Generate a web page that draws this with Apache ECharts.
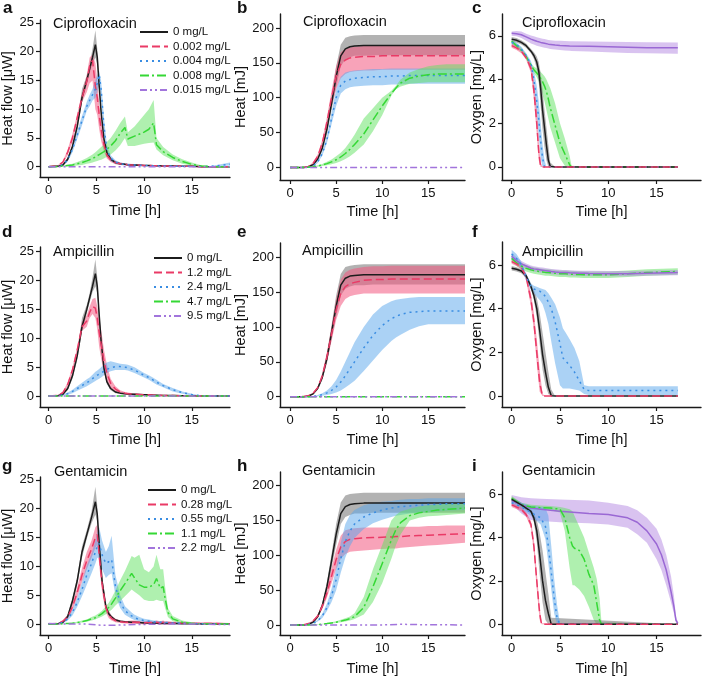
<!DOCTYPE html>
<html><head><meta charset="utf-8">
<script src="https://cdn.jsdelivr.net/npm/echarts@6/dist/echarts.min.js"></script>
<style>html,body{margin:0;padding:0;background:#fff}#c{width:704px;height:681px}</style>
</head><body><div id="c"></div>
<script>
// ================= DATA =================
// ---- shared time grids (h) ----
const tHF = [0, 1, 1.5, 2, 2.5, 3, 3.5, 4, 4.3, 4.6, 4.9, 5.1, 5.3, 5.5, 5.8, 6.1, 6.5, 7, 7.5, 8, 8.3, 9, 10, 10.5, 11, 11.3, 12, 13, 14, 15, 16, 17, 19];
const tG  = [0, 1, 1.5, 2, 2.5, 3, 3.5, 4, 4.5, 4.9, 5.1, 5.3, 5.6, 6, 6.3, 6.6, 7, 7.5, 8, 8.7, 9, 9.5, 10, 10.5, 11, 11.3, 11.7, 12, 12.2, 12.5, 13, 14, 15, 16, 17, 19];
const tH  = [0, 1, 1.5, 2, 2.5, 3, 3.5, 4, 4.5, 5, 5.5, 6, 6.5, 7, 8, 9, 10, 11, 11.5, 12, 13, 14, 15, 16, 17, 19];
const tC  = [0, 0.5, 1, 1.5, 2, 2.3, 2.6, 2.8, 3.0, 3.2, 3.4, 3.6, 3.8, 4.0, 4.5, 5, 5.5, 6, 6.2, 8, 10, 12, 14, 17.2];
const tF  = [0, 0.5, 1, 1.5, 2, 2.3, 2.6, 2.9, 3.2, 3.5, 3.8, 4.1, 4.5, 5, 5.3, 5.6, 6, 6.5, 7, 7.5, 8, 10, 12, 14, 17.2];
const tFlat = [0, 19];
const zero2 = [0, 0];

// ---- tick labels ----
const ticksX = [0, 5, 10, 15];
const ticksHF = [0, 5, 10, 15, 20, 25];
const ticksHeat = [0, 50, 100, 150, 200];
const ticksOx = [0, 2, 4, 6];

// ---- legends ----
const legCipro = ['0 mg/L', '0.002 mg/L', '0.004 mg/L', '0.008 mg/L', '0.015 mg/L'];
const legAmp = ['0 mg/L', '1.2 mg/L', '2.4 mg/L', '4.7 mg/L', '9.5 mg/L'];
const legGent = ['0 mg/L', '0.28 mg/L', '0.55 mg/L', '1.1 mg/L', '2.2 mg/L'];

// ---- (a) Ciprofloxacin heat flow, on tHF ----
const aK   = [0, 0.05, 0.3, 1.3, 3.5, 7, 12, 15, 17, 19, 21.2, 19, 14, 9.5, 4.8, 2.5, 1.3, 0.7, 0.5, 0.4, 0.35, 0.3, 0.2, 0.2, 0.15, 0.15, 0.1, 0.1, 0.05, 0.05, 0, 0, 0];
const aKlo = [0, 0, 0.2, 1.0, 3.0, 6.3, 11.2, 14.3, 16.2, 18.0, 19.0, 17.8, 13.0, 8.7, 4.3, 2.1, 1.0, 0.5, 0.35, 0.3, 0.25, 0.2, 0.12, 0.12, 0.1, 0.1, 0.05, 0.05, 0, 0, 0, 0, 0];
const aKhi = [0.1, 0.15, 0.45, 1.6, 4.0, 7.7, 13.5, 15.8, 17.8, 20.5, 23.7, 20.5, 15.0, 10.3, 5.3, 2.9, 1.6, 0.9, 0.65, 0.5, 0.45, 0.4, 0.3, 0.28, 0.22, 0.2, 0.15, 0.15, 0.1, 0.1, 0.05, 0.05, 0.05];
const aR   = [0, 0.2, 0.8, 2.5, 5, 8.5, 12, 14.8, 17.5, 18.5, 14, 12, 9, 6.5, 3.8, 2.0, 1.2, 0.7, 0.5, 0.4, 0.35, 0.3, 0.2, 0.2, 0.15, 0.15, 0.1, 0.1, 0.05, 0.05, 0, 0, 0];
const aRlo = [0, 0.1, 0.6, 2.0, 4.3, 7.8, 11.2, 13.0, 14.5, 15.0, 10.0, 9.0, 6.5, 4.5, 2.6, 1.4, 0.8, 0.4, 0.3, 0.25, 0.2, 0.15, 0.1, 0.1, 0.05, 0.05, 0, 0, 0, 0, 0, 0, 0];
const aRhi = [0.1, 0.3, 1.0, 3.0, 5.7, 9.2, 12.8, 16.0, 19.0, 19.5, 18.0, 15.0, 11.0, 8.0, 4.8, 2.6, 1.6, 1.0, 0.7, 0.6, 0.5, 0.45, 0.3, 0.3, 0.25, 0.25, 0.15, 0.15, 0.1, 0.1, 0.05, 0.05, 0.05];
const aB   = [0, 0.05, 0.3, 1.2, 3, 5.5, 8, 10.5, 11.5, 12.5, 13.5, 14.5, 16, 13.5, 7, 3, 1.5, 0.8, 0.5, 0.4, 0.35, 0.3, 0.2, 0.2, 0.15, 0.15, 0.1, 0.1, 0.05, 0.05, 0.05, 0.05, 0.4];
const aBlo = [0, 0, 0.2, 0.9, 2.5, 4.8, 7.2, 9.7, 10.5, 11.5, 12.0, 13.0, 14.5, 11.5, 5.5, 2.3, 1.0, 0.5, 0.3, 0.25, 0.2, 0.2, 0.1, 0.1, 0.1, 0.1, 0.05, 0.05, 0, 0, 0, 0, 0.2];
const aBhi = [0.1, 0.15, 0.45, 1.5, 3.5, 6.2, 8.8, 11.3, 12.5, 13.5, 15.0, 16.0, 16.6, 15.0, 8.5, 3.8, 2.0, 1.1, 0.7, 0.55, 0.5, 0.4, 0.3, 0.3, 0.2, 0.2, 0.15, 0.15, 0.1, 0.1, 0.1, 0.1, 0.7];
const aG   = [0, 0.05, 0.1, 0.2, 0.3, 0.5, 0.7, 1.0, 1.2, 1.4, 1.7, 1.9, 2.1, 2.3, 2.6, 3.0, 3.6, 4.5, 5.8, 6.8, 4.8, 5.3, 6.0, 6.5, 7.6, 3.8, 2.6, 1.6, 0.9, 0.4, 0.1, 0, 0];
const aGlo = [0, 0, 0, 0.05, 0.1, 0.2, 0.3, 0.5, 0.6, 0.7, 0.9, 1.0, 1.1, 1.2, 1.4, 1.7, 2.1, 2.8, 3.7, 5.0, 3.6, 3.6, 4.0, 4.1, 4.2, 3.0, 2.0, 1.1, 0.5, 0.15, 0, 0, 0];
const aGhi = [0.1, 0.1, 0.2, 0.35, 0.5, 0.8, 1.1, 1.5, 1.8, 2.1, 2.5, 2.8, 3.1, 3.4, 3.8, 4.3, 5.0, 6.2, 7.6, 8.7, 6.0, 7.0, 9.0, 10.0, 11.6, 5.0, 3.4, 2.1, 1.3, 0.7, 0.25, 0.05, 0.05];

// ---- (d) Ampicillin heat flow, on tHF (control = aK) ----
const dR   = [0, 0.1, 0.6, 2.0, 4.5, 8, 12, 13, 14.5, 15.5, 15.2, 13.5, 11, 9, 6, 4, 2.2, 1.2, 0.7, 0.5, 0.4, 0.3, 0.2, 0.2, 0.15, 0.15, 0.1, 0.1, 0.05, 0.05, 0, 0, 0];
const dRlo = [0, 0, 0.4, 1.6, 4.0, 7.5, 11.3, 12.0, 13.5, 14.2, 13.5, 11.5, 8.5, 6.5, 4.0, 2.5, 1.3, 0.7, 0.4, 0.3, 0.25, 0.2, 0.1, 0.1, 0.1, 0.1, 0.05, 0.05, 0, 0, 0, 0, 0];
const dRhi = [0.1, 0.2, 0.8, 2.4, 5.0, 8.5, 12.8, 14.0, 15.5, 16.8, 17.0, 15.5, 13.0, 11.5, 8.0, 5.5, 3.0, 1.7, 1.0, 0.7, 0.6, 0.45, 0.3, 0.3, 0.2, 0.2, 0.15, 0.15, 0.1, 0.1, 0.05, 0.05, 0.05];
const dB   = [0, 0.05, 0.2, 0.4, 0.8, 1.3, 1.8, 2.3, 2.6, 3.0, 3.4, 3.6, 3.8, 4.0, 4.3, 4.6, 4.9, 5.1, 5.1, 5.0, 4.9, 4.5, 3.6, 3.2, 2.7, 2.4, 1.8, 1.1, 0.6, 0.25, 0.05, 0, 0];
const dBlo = [0, 0, 0.1, 0.2, 0.5, 0.9, 1.3, 1.7, 2.0, 2.3, 2.6, 2.8, 3.0, 3.2, 3.6, 4.0, 4.3, 4.5, 4.5, 4.5, 4.4, 4.0, 3.2, 2.8, 2.3, 2.0, 1.5, 0.8, 0.4, 0.1, 0, 0, 0];
const dBhi = [0.05, 0.1, 0.3, 0.6, 1.1, 1.7, 2.3, 2.9, 3.2, 3.7, 4.2, 4.4, 4.7, 5.0, 5.5, 5.8, 6.0, 5.8, 5.6, 5.5, 5.4, 5.0, 4.0, 3.6, 3.1, 2.8, 2.1, 1.4, 0.8, 0.4, 0.1, 0.05, 0.05];

// ---- (g) Gentamicin heat flow, on tG ----
const gK   = [0, 0.05, 0.3, 1.3, 4, 7.5, 12.5, 15.5, 18.5, 21.2, 19, 14, 7.5, 3, 1.8, 1.2, 0.7, 0.5, 0.4, 0.3, 0.3, 0.25, 0.2, 0.2, 0.15, 0.15, 0.1, 0.1, 0.1, 0.1, 0.1, 0.05, 0.05, 0, 0, 0];
const gKlo = [0, 0, 0.2, 1.0, 3.4, 6.8, 11.5, 14.8, 17.5, 19.0, 17.8, 13.0, 6.8, 2.6, 1.4, 0.9, 0.5, 0.35, 0.3, 0.2, 0.2, 0.15, 0.12, 0.12, 0.1, 0.1, 0.05, 0.05, 0.05, 0.05, 0.05, 0, 0, 0, 0, 0];
const gKhi = [0.1, 0.15, 0.45, 1.6, 4.6, 8.2, 13.5, 16.3, 19.5, 23.8, 20.5, 15.0, 8.3, 3.4, 2.2, 1.5, 0.9, 0.65, 0.5, 0.4, 0.4, 0.35, 0.3, 0.28, 0.22, 0.2, 0.15, 0.15, 0.15, 0.15, 0.15, 0.1, 0.1, 0.05, 0.05, 0.05];
const gR   = [0, 0.1, 0.5, 1.2, 3, 5.5, 8.5, 11, 13, 15, 15.5, 12, 7, 2.8, 1.6, 1.0, 0.6, 0.4, 0.3, 0.3, 0.3, 0.3, 0.2, 0.3, 0.2, 0.3, 0.2, 0.3, 0.2, 0.2, 0.2, 0.2, 0.1, 0.1, 0.1, 0];
const gRlo = [0, 0, 0.3, 0.8, 2.4, 4.6, 7.3, 9.5, 11.5, 13.2, 13.8, 10.2, 5.6, 2.0, 1.0, 0.6, 0.3, 0.2, 0.1, 0, 0, 0, -0.1, 0, -0.1, 0, -0.1, 0, -0.1, -0.1, 0, 0, 0, 0, 0, -0.1];
const gRhi = [0.1, 0.2, 0.7, 1.6, 3.6, 6.4, 9.7, 12.5, 14.5, 16.8, 17.2, 13.8, 8.4, 3.6, 2.2, 1.4, 0.9, 0.6, 0.5, 0.6, 0.6, 0.5, 0.5, 0.6, 0.5, 0.6, 0.5, 0.6, 0.5, 0.5, 0.4, 0.4, 0.3, 0.3, 0.3, 0.2];
const gB   = [0, 0.05, 0.3, 0.9, 2, 3.8, 6, 8.5, 10.5, 12.5, 13.5, 14, 12, 10.5, 10.8, 11.2, 6.5, 3.8, 2.3, 1.4, 1.1, 0.8, 0.6, 0.5, 0.4, 0.35, 0.3, 0.3, 0.25, 0.25, 0.2, 0.15, 0.1, 0.05, 0, 0];
const gBlo = [0, 0, 0.1, 0.6, 1.5, 3.0, 4.8, 6.8, 8.8, 10.5, 11.5, 11.5, 9.5, 8.0, 8.5, 8.8, 5.0, 2.8, 1.6, 0.9, 0.7, 0.5, 0.35, 0.3, 0.2, 0.2, 0.15, 0.15, 0.1, 0.1, 0.05, 0, 0, 0, 0, 0];
const gBhi = [0.1, 0.15, 0.5, 1.2, 2.5, 4.6, 7.2, 10.2, 12.2, 14.5, 15.8, 16.8, 14.5, 12.5, 13.5, 15.3, 8.5, 5.0, 3.1, 2.0, 1.6, 1.2, 0.9, 0.8, 0.6, 0.55, 0.5, 0.45, 0.4, 0.4, 0.35, 0.3, 0.2, 0.1, 0.05, 0.05];
const gG   = [0, 0, 0.05, 0.1, 0.15, 0.25, 0.4, 0.6, 0.9, 1.1, 1.3, 1.5, 1.8, 2.4, 2.9, 3.5, 4.5, 5.8, 7.0, 8.8, 8.0, 6.8, 6.4, 6.4, 6.8, 7.9, 6.2, 6.5, 4.5, 2.0, 0.9, 0.3, 0.1, 0.05, 0, 0];
const gGlo = [0, 0, 0, 0.05, 0.1, 0.15, 0.25, 0.4, 0.6, 0.8, 0.95, 1.1, 1.3, 1.7, 2.1, 2.5, 3.2, 4.0, 4.8, 6.0, 5.6, 5.0, 4.2, 4.0, 4.0, 4.2, 4.0, 4.0, 2.8, 1.2, 0.5, 0.1, 0, 0, 0, 0];
const gGhi = [0.05, 0.05, 0.1, 0.2, 0.25, 0.4, 0.6, 0.8, 1.2, 1.5, 1.7, 1.9, 2.3, 3.1, 3.7, 4.5, 5.8, 7.6, 9.2, 11.8, 11.5, 12.0, 9.5, 9.0, 10.0, 12.0, 9.5, 9.5, 6.5, 2.8, 1.4, 0.6, 0.3, 0.1, 0.05, 0.05];
const tGP = [0, 2, 4, 5.5, 7, 9, 12, 15, 19];
const gP  = [0.1, 0, 0, -0.2, -0.2, -0.1, 0, 0, -0.1];

// ---- heat (b, e, h), on tH ----
const hK   = [0, 0, 0, 1, 4, 12, 28, 55, 92, 130, 160, 170, 173, 174, 175, 175, 175, 175, 175, 175, 175, 175, 175, 175, 175, 175];
const hKlo = [0, 0, 0, 0.5, 3, 10, 24, 48, 82, 115, 145, 155, 158, 160, 160, 161, 161, 161, 161, 161, 161, 161, 161, 161, 161, 161];
const hKhi = [0, 0, 0.2, 1.5, 5, 14, 32, 62, 102, 145, 176, 186, 188, 189, 190, 190, 190, 190, 190, 190, 190, 190, 190, 190, 190, 190];
const bR   = [0, 0, 0.1, 1.5, 6, 16, 35, 65, 100, 130, 148, 154, 157, 158, 159, 159, 160, 160, 160, 160, 160, 160, 160, 160, 160, 160];
const bRlo = [0, 0, 0, 1, 4.5, 13, 30, 57, 88, 112, 128, 134, 137, 138, 139, 139, 140, 140, 140, 140, 140, 140, 140, 140, 140, 140];
const bRhi = [0, 0, 0.2, 2, 7.5, 19, 40, 72, 110, 145, 165, 170, 172, 173, 174, 174, 175, 175, 175, 175, 175, 175, 175, 175, 175, 175];
const bB   = [0, 0, 0, 0.3, 2, 8, 20, 40, 70, 100, 118, 124, 126, 128, 129, 130, 130, 131, 131, 131, 132, 132, 132, 132, 132, 132];
const bBlo = [0, 0, 0, 0.2, 1.5, 6.5, 17, 35, 62, 88, 106, 112, 115, 116, 117, 118, 118, 119, 119, 119, 120, 120, 120, 120, 120, 120];
const bBhi = [0, 0, 0, 0.5, 2.5, 9.5, 23, 45, 78, 112, 130, 136, 138, 139, 140, 141, 141, 142, 142, 142, 142, 142, 142, 142, 142, 142];
const bG   = [0, 0, 0.2, 0.5, 1, 2, 3.5, 5.5, 8, 11, 15, 20, 26, 33, 48, 68, 88, 106, 114, 121, 128, 131, 133, 134, 134, 134];
const bGlo = [0, 0, 0, 0.2, 0.5, 1, 2, 3, 4.5, 6.5, 9, 12, 16, 21, 33, 52, 75, 103, 112, 116, 120, 121, 122, 122, 122, 122];
const bGhi = [0, 0, 0.4, 0.8, 1.5, 3, 5, 8, 11.5, 16, 21, 28, 37, 47, 70, 85, 100, 110, 117, 126, 136, 141, 145, 147, 148, 148];
const eR   = [0, 0, 0.2, 1.5, 5, 13, 30, 57, 90, 125, 148, 158, 162, 164, 167, 168, 168, 169, 169, 169, 169, 169, 169, 169, 169, 169];
const eRlo = [0, 0, 0.1, 1, 4, 11, 26, 50, 80, 110, 130, 140, 144, 146, 148, 148, 148, 148, 148, 148, 148, 148, 148, 148, 148, 148];
const eRhi = [0, 0, 0.3, 2, 6, 15, 34, 64, 100, 140, 168, 178, 182, 184, 186, 187, 187, 188, 188, 188, 188, 188, 188, 188, 188, 188];
const eB   = [0, 0, 0, 0, 0.5, 1.5, 3, 5.5, 9, 14, 21, 30, 40, 50, 70, 88, 102, 112, 115, 118, 121, 122, 123, 123, 123, 123];
const eBlo = [0, 0, 0, 0, 0.2, 0.8, 1.5, 2.5, 4, 6, 9, 13, 18, 23, 37, 52, 67, 80, 85, 89, 96, 101, 104, 104, 104, 104];
const eBhi = [0, 0, 0, 0.1, 1, 2.5, 5, 9, 15, 24, 36, 50, 64, 78, 100, 118, 130, 137, 139, 140, 142, 143, 143, 143, 143, 143];
const hR   = [0, 0, 0.3, 2, 6, 13, 27, 46, 70, 94, 112, 120, 123, 124, 125, 125.5, 126, 126.5, 127, 127, 128, 128.5, 129, 129.5, 130, 131];
const hRlo = [0, 0, 0.2, 1.5, 5, 11, 23, 39, 60, 80, 95, 102, 105, 106, 107, 108, 109, 110, 110, 111, 112, 113, 114, 115, 116, 118];
const hRhi = [0, 0, 0.4, 2.5, 7, 15, 31, 54, 82, 108, 128, 136, 138, 139, 140, 140, 140, 140, 140, 141, 141, 141, 142, 142, 143, 143];
const hB   = [0, 0, 0.1, 0.8, 2.5, 6, 13, 25, 42, 65, 95, 120, 135, 145, 155, 161, 165, 168, 169, 170, 171, 172, 173, 173, 174, 174];
const hBlo = [0, 0, 0, 0.5, 2, 5, 10, 20, 33, 50, 75, 97, 113, 125, 138, 146, 151, 155, 157, 158, 160, 161, 162, 163, 164, 165];
const hBhi = [0, 0, 0.2, 1.1, 3, 7.5, 16, 31, 52, 82, 118, 145, 158, 165, 172, 175, 177, 178, 179, 180, 181, 181, 182, 182, 182, 182];
const hG   = [0, 0, 0, 0.1, 0.3, 0.7, 1.2, 2, 3, 4, 5.5, 7, 9, 12, 25, 55, 88, 122, 137, 147, 157, 161, 163, 165, 166, 168];
const hGlo = [0, 0, 0, 0, 0.2, 0.5, 0.9, 1.5, 2.2, 3, 4, 5, 6.5, 8.5, 15, 33, 60, 95, 115, 130, 150, 154, 156, 157, 158, 160];
const hGhi = [0, 0, 0.1, 0.2, 0.5, 1, 1.6, 2.6, 4, 5.5, 7.5, 9.5, 12, 17, 40, 80, 115, 150, 158, 163, 167, 170, 172, 173, 174, 175];
const tHP = [0, 10, 12, 14, 19];
const hP  = [0, 0, 1, 0.5, 0];

// ---- (c) Ciprofloxacin oxygen, on tC ----
const cK   = [5.85, 5.8, 5.7, 5.55, 5.3, 5.1, 4.8, 4.4, 3.6, 2.6, 1.8, 1.0, 0.3, 0.02, 0, 0, 0, 0, 0, 0, 0, 0, 0, 0];
const cKlo = [5.75, 5.7, 5.6, 5.45, 5.2, 4.95, 4.5, 3.9, 2.8, 1.7, 0.9, 0.3, 0, 0, 0, 0, 0, 0, 0, 0, 0, 0, 0, 0];
const cKhi = [5.95, 5.9, 5.8, 5.65, 5.4, 5.25, 5.05, 4.8, 4.3, 3.5, 2.6, 1.8, 1.0, 0.2, 0, 0, 0, 0, 0, 0, 0, 0, 0, 0];
const cR   = [5.55, 5.45, 5.3, 5.0, 4.5, 3.5, 2.0, 0.7, 0, 0, 0, 0, 0, 0, 0, 0, 0, 0, 0, 0, 0, 0, 0, 0];
const cRlo = [5.45, 5.35, 5.2, 4.9, 4.3, 3.1, 1.5, 0.3, 0, 0, 0, 0, 0, 0, 0, 0, 0, 0, 0, 0, 0, 0, 0, 0];
const cRhi = [5.65, 5.55, 5.4, 5.1, 4.7, 3.9, 2.6, 1.2, 0.2, 0, 0, 0, 0, 0, 0, 0, 0, 0, 0, 0, 0, 0, 0, 0];
const cB   = [5.7, 5.6, 5.4, 5.1, 4.7, 4.0, 3.0, 2.2, 1.2, 0.4, 0, 0, 0, 0, 0, 0, 0, 0, 0, 0, 0, 0, 0, 0];
const cBlo = [5.6, 5.5, 5.3, 5.0, 4.5, 3.6, 2.3, 1.4, 0.4, 0, 0, 0, 0, 0, 0, 0, 0, 0, 0, 0, 0, 0, 0, 0];
const cBhi = [5.8, 5.7, 5.5, 5.2, 4.85, 4.4, 3.7, 3.0, 2.0, 1.0, 0.3, 0, 0, 0, 0, 0, 0, 0, 0, 0, 0, 0, 0, 0];
const cG   = [5.75, 5.55, 5.35, 5.05, 4.65, 4.45, 4.3, 4.2, 4.05, 3.9, 3.7, 3.45, 3.1, 2.7, 1.9, 1.1, 0.6, 0.1, 0, 0, 0, 0, 0, 0];
const cGlo = [5.65, 5.45, 5.25, 4.95, 4.55, 4.3, 4.1, 3.9, 3.6, 3.3, 3.0, 2.6, 2.2, 1.8, 1.1, 0.4, 0.05, 0, 0, 0, 0, 0, 0, 0];
const cGhi = [5.85, 5.65, 5.45, 5.15, 4.75, 4.6, 4.5, 4.45, 4.35, 4.25, 4.15, 4.0, 3.8, 3.6, 2.9, 2.0, 1.3, 0.5, 0.05, 0, 0, 0, 0, 0];
const cP   = [6.12, 6.1, 6.05, 5.95, 5.85, 5.8, 5.75, 5.72, 5.7, 5.68, 5.66, 5.64, 5.62, 5.6, 5.58, 5.56, 5.55, 5.54, 5.54, 5.52, 5.5, 5.48, 5.46, 5.45];
const cPlo = [6.0, 5.98, 5.9, 5.78, 5.65, 5.6, 5.55, 5.52, 5.5, 5.48, 5.46, 5.44, 5.42, 5.4, 5.37, 5.35, 5.33, 5.32, 5.31, 5.28, 5.25, 5.22, 5.2, 5.18];
const cPhi = [6.2, 6.22, 6.2, 6.1, 6.02, 5.98, 5.94, 5.91, 5.89, 5.87, 5.85, 5.83, 5.81, 5.8, 5.78, 5.77, 5.76, 5.75, 5.75, 5.74, 5.73, 5.72, 5.71, 5.7];

// ---- (f) Ampicillin oxygen, on tF ----
const fK   = [5.85, 5.8, 5.72, 5.5, 5.0, 4.6, 4.0, 3.0, 1.9, 1.1, 0.4, 0.02, 0, 0, 0, 0, 0, 0, 0, 0, 0, 0, 0, 0, 0];
const fKlo = [5.75, 5.7, 5.62, 5.4, 4.9, 4.4, 3.6, 2.4, 1.2, 0.5, 0.1, 0, 0, 0, 0, 0, 0, 0, 0, 0, 0, 0, 0, 0, 0];
const fKhi = [5.95, 5.9, 5.82, 5.6, 5.15, 4.85, 4.5, 3.8, 2.9, 2.0, 1.1, 0.3, 0, 0, 0, 0, 0, 0, 0, 0, 0, 0, 0, 0, 0];
const fR   = [6.15, 6.05, 5.9, 5.45, 4.4, 3.4, 2.0, 0.6, 0, 0, 0, 0, 0, 0, 0, 0, 0, 0, 0, 0, 0, 0, 0, 0, 0];
const fRlo = [6.05, 5.95, 5.8, 5.3, 4.1, 3.0, 1.5, 0.2, 0, 0, 0, 0, 0, 0, 0, 0, 0, 0, 0, 0, 0, 0, 0, 0, 0];
const fRhi = [6.25, 6.15, 6.0, 5.6, 4.7, 3.8, 2.6, 1.2, 0.1, 0, 0, 0, 0, 0, 0, 0, 0, 0, 0, 0, 0, 0, 0, 0, 0];
const fB   = [6.5, 6.3, 6.0, 5.45, 5.0, 4.9, 4.85, 4.8, 4.7, 4.55, 4.3, 4.0, 3.4, 2.4, 1.75, 1.6, 1.4, 1.1, 0.7, 0.3, 0.25, 0.25, 0.25, 0.25, 0.25];
const fBlo = [6.3, 6.1, 5.85, 5.3, 4.85, 4.7, 4.55, 4.4, 4.2, 3.8, 3.3, 2.5, 1.5, 0.5, 0.35, 0.35, 0.35, 0.3, 0.25, 0.1, 0.05, 0.05, 0.05, 0.05, 0.05];
const fBhi = [6.7, 6.5, 6.15, 5.6, 5.15, 5.05, 5.0, 4.95, 4.9, 4.85, 4.7, 4.5, 4.2, 3.6, 3.1, 2.9, 2.6, 2.2, 1.6, 0.5, 0.45, 0.45, 0.45, 0.45, 0.45];
const fG   = [6.3, 6.1, 5.95, 5.85, 5.78, 5.75, 5.72, 5.7, 5.68, 5.66, 5.65, 5.64, 5.62, 5.6, 5.6, 5.6, 5.58, 5.57, 5.56, 5.55, 5.55, 5.55, 5.6, 5.65, 5.7];
const fGlo = [6.15, 5.95, 5.8, 5.7, 5.63, 5.6, 5.57, 5.55, 5.53, 5.51, 5.5, 5.49, 5.47, 5.45, 5.45, 5.45, 5.43, 5.42, 5.41, 5.4, 5.4, 5.4, 5.45, 5.5, 5.55];
const fGhi = [6.45, 6.25, 6.1, 6.0, 5.93, 5.9, 5.87, 5.85, 5.83, 5.81, 5.8, 5.79, 5.77, 5.75, 5.75, 5.75, 5.73, 5.72, 5.71, 5.7, 5.7, 5.7, 5.75, 5.8, 5.85];
const fP   = [6.4, 6.2, 6.05, 5.95, 5.85, 5.82, 5.8, 5.78, 5.76, 5.74, 5.72, 5.7, 5.68, 5.66, 5.65, 5.65, 5.64, 5.63, 5.62, 5.62, 5.61, 5.6, 5.6, 5.62, 5.65];
const fPlo = [6.25, 6.05, 5.92, 5.83, 5.73, 5.7, 5.68, 5.66, 5.64, 5.62, 5.6, 5.58, 5.56, 5.54, 5.53, 5.53, 5.52, 5.51, 5.5, 5.5, 5.49, 5.48, 5.48, 5.5, 5.53];
const fPhi = [6.55, 6.35, 6.18, 6.07, 5.97, 5.94, 5.92, 5.9, 5.88, 5.86, 5.84, 5.82, 5.8, 5.78, 5.77, 5.77, 5.76, 5.75, 5.74, 5.74, 5.73, 5.72, 5.72, 5.74, 5.77];

// ---- (i) Gentamicin oxygen, own time grids ----
const iTK = [0, 1, 2, 2.3, 2.6, 2.9, 3.2, 3.5, 3.8, 4.1, 17.2];
const iK   = [5.75, 5.5, 5.2, 4.9, 4.3, 3.2, 2.0, 1.1, 0.5, 0, 0];
const iKlo = [5.65, 5.4, 5.1, 4.7, 3.8, 2.3, 1.0, 0.2, 0, 0, 0];
const iKhi = [5.85, 5.6, 5.3, 5.1, 4.8, 4.2, 3.4, 2.4, 1.4, 0.3, 0];
const iTR = [0, 1, 1.5, 2, 2.3, 2.6, 2.9, 3.1, 17.2];
const iR   = [5.5, 5.3, 5.05, 4.6, 3.6, 2.0, 0.5, 0, 0];
const iRlo = [5.4, 5.2, 4.95, 4.45, 3.3, 1.6, 0.2, 0, 0];
const iRhi = [5.6, 5.4, 5.15, 4.75, 3.9, 2.4, 0.8, 0.05, 0];
const iTB = [0, 1, 2, 3, 3.5, 3.8, 4.1, 4.4, 4.7, 5.0, 17.2];
const iB   = [5.6, 5.4, 5.15, 4.9, 4.5, 3.6, 2.4, 1.2, 0.3, 0, 0];
const iBlo = [5.5, 5.3, 5.0, 4.6, 3.9, 2.8, 1.6, 0.5, 0, 0, 0];
const iBhi = [5.8, 5.6, 5.45, 5.4, 5.35, 5.0, 3.6, 2.1, 0.9, 0.05, 0];
const iTG = [0, 1, 2, 3, 4, 5, 5.5, 6, 6.3, 6.5, 7, 7.5, 8, 8.5, 8.8, 9.1, 9.3, 17.2];
const iG   = [5.8, 5.5, 5.4, 5.37, 5.35, 5.3, 4.9, 4.0, 3.6, 3.5, 3.4, 3.0, 2.3, 1.8, 1.0, 0.2, 0, 0];
const iGlo = [5.7, 5.4, 5.3, 5.27, 5.25, 5.15, 4.3, 2.6, 1.8, 1.8, 1.6, 1.3, 0.8, 0.2, 0, 0, 0, 0];
const iGhi = [5.9, 5.6, 5.5, 5.47, 5.45, 5.4, 5.35, 5.3, 5.2, 5.0, 4.5, 4.0, 3.3, 2.6, 2.1, 1.2, 0.1, 0];
const iTP = [0, 1, 2, 3, 5, 8, 10, 12, 13, 14, 15, 15.5, 16, 16.5, 16.8, 17.0, 17.2];
const iP   = [5.7, 5.5, 5.35, 5.3, 5.2, 5.1, 5.05, 4.9, 4.7, 4.3, 3.7, 3.2, 2.5, 1.5, 0.8, 0.2, 0.05];
const iPlo = [5.55, 5.1, 4.8, 4.75, 4.7, 4.65, 4.6, 4.45, 4.15, 3.75, 3.0, 2.5, 1.8, 1.0, 0.5, 0.1, 0];
const iPhi = [5.95, 5.85, 5.8, 5.78, 5.75, 5.7, 5.6, 5.45, 5.25, 4.9, 4.4, 3.9, 3.2, 2.2, 1.3, 0.4, 0.1];

// ================= STYLE / LAYOUT =================
const FONT = '"Liberation Sans", Arial, Helvetica, sans-serif';
const STY = {
  k: { c: '#1c1c1c', band: 'rgba(115,115,115,0.55)', dash: 'solid' },
  r: { c: '#ea3a66', band: 'rgba(243,88,128,0.55)', dash: [8, 4] },
  b: { c: '#3a8de2', band: 'rgba(88,165,235,0.5)', dash: [2, 4] },
  g: { c: '#35d835', band: 'rgba(95,225,95,0.5)', dash: [9, 3, 2, 3] },
  p: { c: '#a275dc', band: 'rgba(180,135,225,0.5)', dash: [7, 3, 2, 3, 2, 3] },
  po: { c: '#9a68d4', band: 'rgba(180,135,225,0.5)', dash: 'solid' }
};
const GEO = {
  a: { left: 40, top: 20, width: 190, height: 157, x: [-0.9, 19], y: [-1.8, 25.5] },
  b: { left: 280, top: 14, width: 185, height: 166, x: [-1.1, 19], y: [-18, 220] },
  c: { left: 502, top: 14, width: 199, height: 166, x: [-1, 19.6], y: [-0.6, 7] },
  d: { left: 40, top: 247, width: 190, height: 160, x: [-0.9, 19], y: [-1.9, 25.8] },
  e: { left: 280, top: 243, width: 185, height: 164, x: [-1.1, 19], y: [-14.8, 220.5] },
  f: { left: 502, top: 242, width: 199, height: 165, x: [-1, 19.6], y: [-0.5, 7.05] },
  g: { left: 40, top: 477, width: 190, height: 158, x: [-0.9, 19], y: [-1.9, 25.5] },
  h: { left: 280, top: 472, width: 185, height: 163, x: [-1.1, 19], y: [-14.4, 219.7] },
  i: { left: 502, top: 472, width: 199, height: 163, x: [-1, 19.6], y: [-0.49, 7.01] }
};
const KIND = {
  hf: { name: 'Heat flow [\u03bcW]', ticks: ticksHF, gap: 19 },
  heat: { name: 'Heat [mJ]', ticks: ticksHeat, gap: 22 },
  ox: { name: 'Oxygen [mg/L]', ticks: ticksOx, gap: 9 }
};

// panel definitions: [name, style, t, mean, lo, hi]
const panels = [
  { id: 'a', kind: 'hf', title: 'Ciprofloxacin', legend: legCipro, leg: [139, 26], s: [
    ['0 mg/L', 'k', tHF, aK, aKlo, aKhi], ['0.002 mg/L', 'r', tHF, aR, aRlo, aRhi],
    ['0.004 mg/L', 'b', tHF, aB, aBlo, aBhi], ['0.008 mg/L', 'g', tHF, aG, aGlo, aGhi],
    ['0.015 mg/L', 'p', tFlat, zero2, null, null]] },
  { id: 'b', kind: 'heat', title: 'Ciprofloxacin', s: [
    ['b0', 'k', tH, hK, hKlo, hKhi], ['b1', 'r', tH, bR, bRlo, bRhi], ['b2', 'b', tH, bB, bBlo, bBhi],
    ['b3', 'g', tH, bG, bGlo, bGhi], ['b4', 'p', tFlat, zero2, null, null]] },
  { id: 'c', kind: 'ox', title: 'Ciprofloxacin', s: [
    ['c4', 'po', tC, cP, cPlo, cPhi], ['c3', 'g', tC, cG, cGlo, cGhi], ['c0', 'k', tC, cK, cKlo, cKhi],
    ['c2', 'b', tC, cB, cBlo, cBhi], ['c1', 'r', tC, cR, cRlo, cRhi]] },
  { id: 'd', kind: 'hf', title: 'Ampicillin', legend: legAmp, leg: [153, 252], s: [
    ['0 mg/L', 'k', tHF, aK, aKlo, aKhi], ['1.2 mg/L', 'r', tHF, dR, dRlo, dRhi],
    ['2.4 mg/L', 'b', tHF, dB, dBlo, dBhi], ['4.7 mg/L', 'g', tFlat, zero2, null, null],
    ['9.5 mg/L', 'p', tFlat, zero2, null, null]] },
  { id: 'e', kind: 'heat', title: 'Ampicillin', s: [
    ['e0', 'k', tH, hK, hKlo, hKhi], ['e1', 'r', tH, eR, eRlo, eRhi], ['e2', 'b', tH, eB, eBlo, eBhi],
    ['e3', 'g', tFlat, zero2, null, null], ['e4', 'p', tFlat, zero2, null, null]] },
  { id: 'f', kind: 'ox', title: 'Ampicillin', s: [
    ['f3', 'g', tF, fG, fGlo, fGhi], ['f4', 'po', tF, fP, fPlo, fPhi], ['f0', 'k', tF, fK, fKlo, fKhi],
    ['f1', 'r', tF, fR, fRlo, fRhi], ['f2', 'b', tF, fB, fBlo, fBhi]] },
  { id: 'g', kind: 'hf', title: 'Gentamicin', legend: legGent, leg: [147, 484], s: [
    ['0 mg/L', 'k', tG, gK, gKlo, gKhi], ['0.28 mg/L', 'r', tG, gR, gRlo, gRhi],
    ['0.55 mg/L', 'b', tG, gB, gBlo, gBhi], ['1.1 mg/L', 'g', tG, gG, gGlo, gGhi],
    ['2.2 mg/L', 'p', tGP, gP, null, null]] },
  { id: 'h', kind: 'heat', title: 'Gentamicin', s: [
    ['h0', 'k', tH, hK, hKlo, hKhi], ['h1', 'r', tH, hR, hRlo, hRhi], ['h2', 'b', tH, hB, hBlo, hBhi],
    ['h3', 'g', tH, hG, hGlo, hGhi], ['h4', 'p', tHP, hP, null, null]] },
  { id: 'i', kind: 'ox', title: 'Gentamicin', s: [
    ['i4', 'po', iTP, iP, iPlo, iPhi], ['i3', 'g', iTG, iG, iGlo, iGhi], ['i0', 'k', iTK, iK, iKlo, iKhi],
    ['i2', 'b', iTB, iB, iBlo, iBhi], ['i1', 'r', iTR, iR, iRlo, iRhi]] }
];
const TITLE_POS = { a: [53, 16], b: [303, 14], c: [522, 15], d: [53, 244], e: [302, 243], f: [522, 244], g: [54, 464], h: [302, 463], i: [522, 463] };
const LETTER_POS = { a: [3, 0], b: [237, 0], c: [472, 0], d: [2, 224], e: [237, 224], f: [472, 224], g: [2, 458], h: [237, 458], i: [472, 458] };
const XNAME_GAP = { a: 26, b: 24, c: 24, d: 25, e: 25, f: 25, g: 26, h: 26, i: 26 };

// ================= BUILD =================
const grid = [], xAxis = [], yAxis = [], series = [], title = [], legend = [];
const axisCol = '#1a1a1a';

function bandSeries(gi, t, lo, hi, color) {
  return {
    type: 'custom', xAxisIndex: gi, yAxisIndex: gi, silent: true, z: 1, animation: false,
    data: t.map((x, k) => [x, lo[k], hi[k]]),
    encode: { x: 0, y: [1, 2] },
    renderItem: (params, api) => {
      if (params.dataIndex !== 0) return null;
      const pts = [];
      for (let k = 0; k < t.length; k++) pts.push(api.coord([t[k], hi[k]]));
      for (let k = t.length - 1; k >= 0; k--) pts.push(api.coord([t[k], lo[k]]));
      return { type: 'polygon', shape: { points: pts }, style: { fill: color, stroke: null } };
    }
  };
}

panels.forEach((p, gi) => {
  const G = GEO[p.id], K = KIND[p.kind];
  grid.push({ left: G.left, top: G.top, width: G.width, height: G.height, outerBoundsMode: 'none', containLabel: false });
  xAxis.push({
    type: 'value', gridIndex: gi, min: G.x[0], max: G.x[1],
    name: 'Time [h]', nameLocation: 'middle', nameGap: XNAME_GAP[p.id],
    nameTextStyle: { fontSize: 14.5, color: '#111', fontFamily: FONT },
    axisLine: { onZero: false, lineStyle: { color: axisCol, width: 1.4 } },
    axisTick: { customValues: ticksX, length: 4, lineStyle: { color: axisCol, width: 1.2 } },
    axisLabel: { customValues: ticksX, fontSize: 13, color: '#111', margin: 7, fontFamily: FONT },
    splitLine: { show: false }
  });
  yAxis.push({
    type: 'value', gridIndex: gi, min: G.y[0], max: G.y[1],
    name: K.name, nameLocation: 'middle', nameGap: K.gap,
    nameTextStyle: { fontSize: 14.5, color: '#111', fontFamily: FONT },
    axisLine: { show: true, onZero: false, lineStyle: { color: axisCol, width: 1.4 } },
    axisTick: { show: true, customValues: K.ticks, length: 4, lineStyle: { color: axisCol, width: 1.2 } },
    axisLabel: { customValues: K.ticks, fontSize: 13, color: '#111', margin: 6, fontFamily: FONT },
    splitLine: { show: false }
  });
  // bands first
  p.s.forEach((s) => {
    const [name, st, t, m, lo, hi] = s;
    if (lo) series.push(bandSeries(gi, t, lo, hi, STY[st].band));
  });
  // mean lines
  p.s.forEach((s) => {
    const [name, st, t, m] = s;
    series.push({
      type: 'line', name: name, xAxisIndex: gi, yAxisIndex: gi,
      data: t.map((x, k) => [x, m[k]]), symbol: 'none', z: 3, animation: false,
      itemStyle: { color: STY[st].c },
      lineStyle: { color: STY[st].c, width: 1.5, type: STY[st].dash }
    });
  });
  title.push({ text: p.title, left: TITLE_POS[p.id][0], top: TITLE_POS[p.id][1], padding: 0,
    textStyle: { fontSize: 14.5, fontWeight: 'normal', color: '#111', fontFamily: FONT } });
  title.push({ text: p.id, left: LETTER_POS[p.id][0], top: LETTER_POS[p.id][1], padding: 0,
    textStyle: { fontSize: 17, fontWeight: 'bold', color: '#111', fontFamily: FONT } });
  if (p.legend) {
    legend.push({
      data: p.legend, orient: 'vertical', left: p.leg[0], top: p.leg[1], padding: 0,
      itemWidth: 28, itemHeight: 10, itemGap: 2.5, selectedMode: false,
      itemStyle: { opacity: 0 },
      textStyle: { fontSize: 11.5, color: '#111', fontFamily: FONT }
    });
  }
});

const chart = echarts.init(document.getElementById('c'), null, { renderer: 'canvas' });
chart.setOption({ animation: false, backgroundColor: '#fff', grid, xAxis, yAxis, series, title, legend });
</script>
</body></html>
